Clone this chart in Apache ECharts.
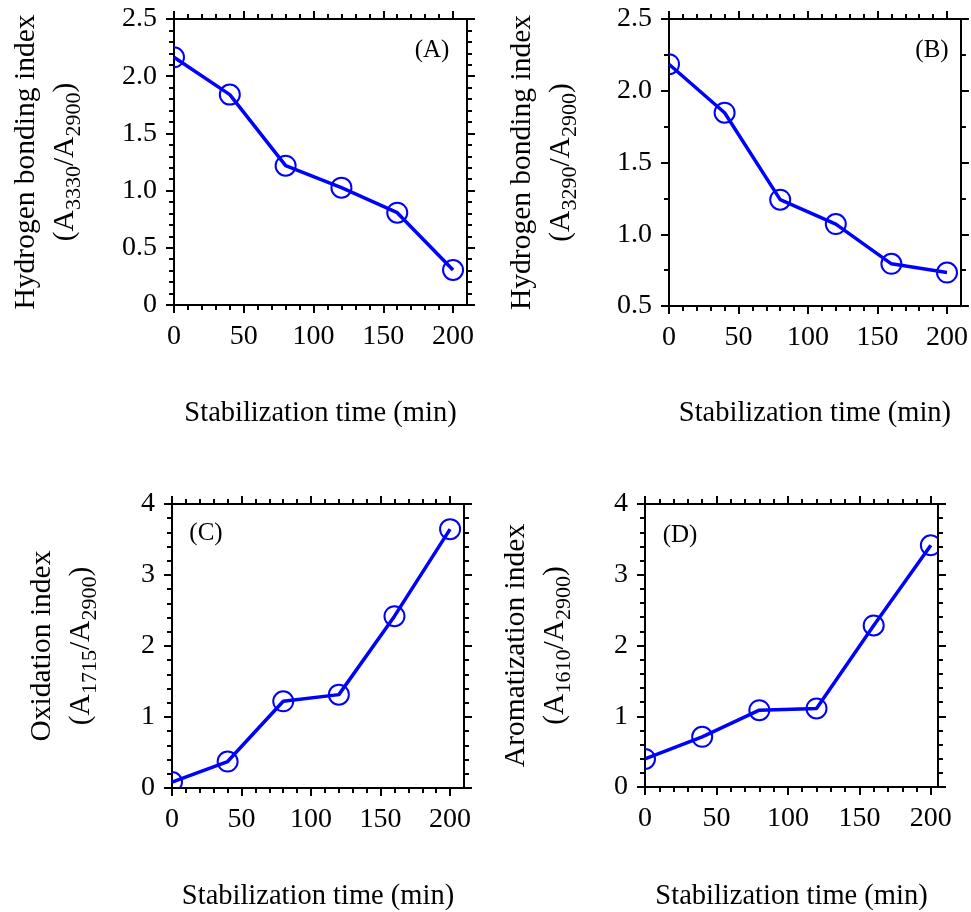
<!DOCTYPE html>
<html>
<head>
<meta charset="utf-8">
<style>
  html, body { margin: 0; padding: 0; background: #fff; }
  #chart { width: 971px; height: 912px; }
</style>
<script src="https://cdn.jsdelivr.net/npm/echarts@6/dist/echarts.min.js"></script>
</head>
<body>
<div id="chart"></div>
<script>
// ---- data ----
const timeMin = [0, 40, 80, 120, 160, 200];
const hbiA = [2.165, 1.839, 1.218, 1.026, 0.807, 0.306];
const hbiB = [2.185, 1.847, 1.241, 1.071, 0.794, 0.733];
const oxiC = [0.084, 0.373, 1.221, 1.315, 2.42, 3.646];
const aroD = [0.396, 0.709, 1.086, 1.11, 2.284, 3.417];
const xTicks = [0, 50, 100, 150, 200];
const panelLetters = ['(A)', '(B)', '(C)', '(D)'];
const xTitle = 'Stabilization time (min)';
const yTitles = ['Hydrogen bonding index', 'Hydrogen bonding index', 'Oxidation index', 'Aromatization index'];
const ySubs = [['3330', '2900'], ['3290', '2900'], ['1715', '2900'], ['1610', '2900']];

const FONT = 'Liberation Serif';
const BLUE = '#0000ff';

const panels = [
  { grid: { left: 174, top: 19, width: 293, height: 286 }, xMax: 210, yMin: 0, yMax: 2.5, yInt: 0.5, ySplit: 5, dec: 1, data: hbiA, nameGapY: 89, nameGapX: 94, letter: [432, 50] },
  { grid: { left: 669, top: 19, width: 293, height: 287 }, xMax: 210, yMin: 0.5, yMax: 2.5, yInt: 0.5, ySplit: 2, dec: 1, data: hbiB, nameGapY: 88, nameGapX: 93, letter: [932, 50] },
  { grid: { left: 172, top: 504, width: 292, height: 286 }, xMax: 210, yMin: 0, yMax: 4, yInt: 1, ySplit: 5, dec: 0, data: oxiC, nameGapY: 71, nameGapX: 94, letter: [206, 533] },
  { grid: { left: 645, top: 504, width: 293, height: 286 }, xMax: 205, yMin: 0, yMax: 4, yInt: 1, ySplit: 5, dec: 0, data: aroD, nameGapY: 70, nameGapX: 95, letter: [680, 535] }
];

const lineStyleAxis = { color: '#000', width: 2 };
const tickCommon = { show: true, inside: false, length: 8, lineStyle: { color: '#000', width: 2 } };
const minorCommon = (n) => ({ show: true, splitNumber: n, length: 5, lineStyle: { color: '#000', width: 2 } });

const grids = [], xAxes = [], yAxes = [], series = [], graphics = [];

panels.forEach((p, i) => {
  grids.push(Object.assign({ containLabel: false }, p.grid));
  const xBase = {
    type: 'value', gridIndex: i, min: 0, max: p.xMax, interval: 50,
    axisLine: { show: true, onZero: false, lineStyle: lineStyleAxis },
    axisTick: Object.assign({ customValues: xTicks }, tickCommon),
    minorTick: minorCommon(5),
    splitLine: { show: false }, minorSplitLine: { show: false }
  };
  xAxes.push(Object.assign({}, xBase, {
    position: 'bottom',
    name: xTitle, nameLocation: 'middle', nameGap: p.nameGapX,
    nameTextStyle: { fontFamily: FONT, fontSize: 28.5, color: '#000' },
    axisLabel: {
      show: true, customValues: xTicks, margin: 18, fontFamily: FONT, fontSize: 28, color: '#000',
      formatter: (v) => (xTicks.indexOf(v) >= 0 ? String(v) : '')
    }
  }));
  xAxes.push(Object.assign({}, xBase, { position: 'top', axisLabel: { show: false } }));

  const yBase = {
    type: 'value', gridIndex: i, min: p.yMin, max: p.yMax, interval: p.yInt,
    axisLine: { show: true, onZero: false, lineStyle: lineStyleAxis },
    axisTick: tickCommon,
    minorTick: minorCommon(p.ySplit),
    splitLine: { show: false }, minorSplitLine: { show: false }
  };
  const sub = ySubs[i];
  yAxes.push(Object.assign({}, yBase, {
    position: 'left',
    name: '{t|' + yTitles[i] + '}\n{t|(A}{s|' + sub[0] + '}{t|/A}{s|' + sub[1] + '}{t|)}',
    nameLocation: 'middle', nameRotate: 90, nameGap: p.nameGapY,
    nameTextStyle: {
      fontFamily: FONT, fontSize: 29.5, color: '#000',
      rich: {
        t: { fontFamily: FONT, fontSize: 29.5, lineHeight: 39, color: '#000' },
        s: { fontFamily: FONT, fontSize: 22, lineHeight: 14, verticalAlign: 'bottom', color: '#000' }
      }
    },
    axisLabel: {
      show: true, margin: 17, fontFamily: FONT, fontSize: 28, color: '#000',
      formatter: (v) => (v === 0 ? '0' : v.toFixed(p.dec))
    }
  }));
  yAxes.push(Object.assign({}, yBase, { position: 'right', axisLabel: { show: false } }));

  const pts = timeMin.map((t, k) => [t, p.data[k]]);
  series.push({
    type: 'line', xAxisIndex: 2 * i, yAxisIndex: 2 * i, data: pts,
    showSymbol: false, clip: true, silent: true,
    lineStyle: { color: BLUE, width: 3.5 }, z: 2
  });
  series.push({
    type: 'custom', xAxisIndex: 2 * i, yAxisIndex: 2 * i, data: pts, clip: true, silent: true, z: 3,
    renderItem: (params, api) => {
      const c = api.coord([api.value(0), api.value(1)]);
      const cs = params.coordSys;
      return {
        type: 'circle',
        shape: { cx: c[0], cy: c[1], r: 10 },
        style: { fill: 'none', stroke: BLUE, lineWidth: 2 },
        clipPath: { type: 'rect', shape: { x: cs.x, y: cs.y, width: cs.width, height: cs.height } }
      };
    }
  });
  graphics.push({
    type: 'text', x: p.letter[0], y: p.letter[1],
    style: { text: panelLetters[i], fontFamily: FONT, fontSize: 25, fill: '#000', align: 'center', verticalAlign: 'middle' }
  });
});

const chart = echarts.init(document.getElementById('chart'), null, { renderer: 'canvas' });
chart.setOption({
  animation: false,
  backgroundColor: '#fff',
  grid: grids,
  xAxis: xAxes,
  yAxis: yAxes,
  series: series,
  graphic: graphics
});
</script>
</body>
</html>
